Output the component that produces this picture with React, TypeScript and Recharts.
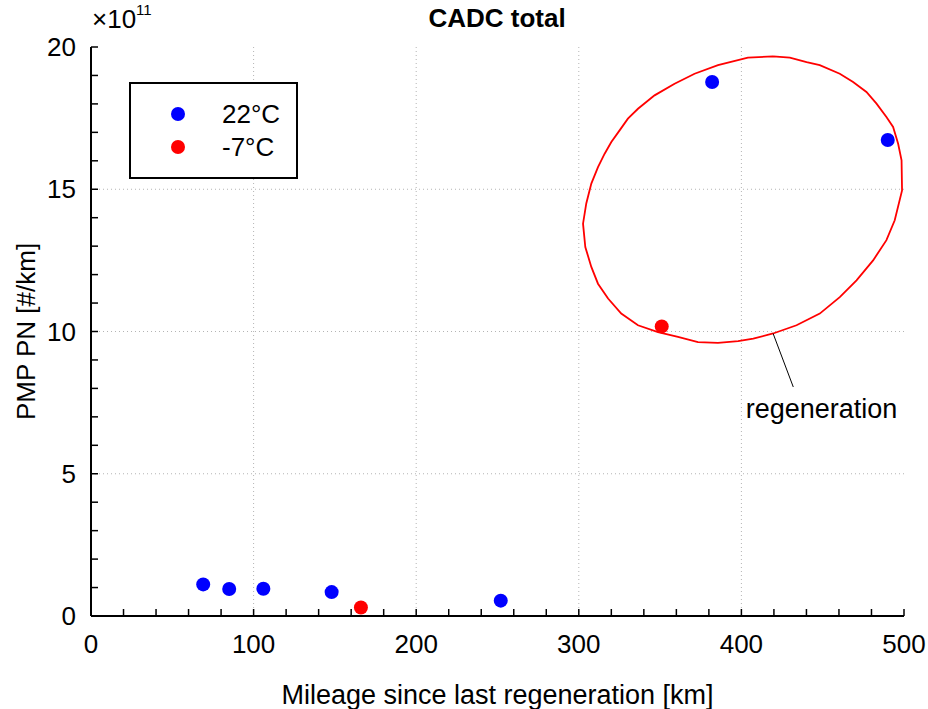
import React from 'react';
import {
  ScatterChart,
  Scatter,
  XAxis,
  YAxis,
  ReferenceLine,
  ReferenceDot,
  Legend,
} from 'recharts';

const FONT = '"Liberation Sans", Arial, Helvetica, sans-serif';

const temp22 = [
  { x: 69, y: 1.11 },
  { x: 85, y: 0.95 },
  { x: 106, y: 0.96 },
  { x: 148, y: 0.84 },
  { x: 252, y: 0.54 },
  { x: 382, y: 18.77 },
  { x: 490, y: 16.73 },
];

const tempMinus7 = [
  { x: 166, y: 0.3 },
  { x: 351, y: 10.18 },
];

// regeneration ellipse outline
const ellipse = [
  { x: 419.5, y: 19.67 }, { x: 404.0, y: 19.63 }, { x: 385.6, y: 19.36 },
  { x: 371.2, y: 19.06 }, { x: 358.9, y: 18.71 }, { x: 346.6, y: 18.3 },
  { x: 336.4, y: 17.83 }, { x: 330.2, y: 17.48 }, { x: 325.1, y: 17.07 },
  { x: 320.0, y: 16.66 }, { x: 315.9, y: 16.25 }, { x: 311.8, y: 15.78 },
  { x: 307.7, y: 15.2 }, { x: 304.6, y: 14.5 }, { x: 302.6, y: 13.79 },
  { x: 304.0, y: 12.97 }, { x: 307.7, y: 12.27 }, { x: 311.8, y: 11.68 },
  { x: 318.0, y: 11.16 }, { x: 326.1, y: 10.63 }, { x: 336.4, y: 10.22 },
  { x: 348.7, y: 9.98 }, { x: 361.0, y: 9.81 }, { x: 373.3, y: 9.63 },
  { x: 385.6, y: 9.6 }, { x: 398.0, y: 9.66 }, { x: 407.3, y: 9.75 },
  { x: 419.5, y: 9.93 }, { x: 433.9, y: 10.22 }, { x: 448.2, y: 10.63 },
  { x: 460.5, y: 11.21 }, { x: 470.8, y: 11.8 }, { x: 481.0, y: 12.5 },
  { x: 489.2, y: 13.21 }, { x: 494.3, y: 13.91 }, { x: 498.8, y: 14.96 },
  { x: 498.5, y: 16.02 }, { x: 496.4, y: 16.6 }, { x: 493.3, y: 17.19 },
  { x: 489.2, y: 17.54 }, { x: 483.1, y: 18.01 }, { x: 476.9, y: 18.42 },
  { x: 468.7, y: 18.77 }, { x: 460.5, y: 19.06 }, { x: 448.2, y: 19.36 },
  { x: 440.1, y: 19.47 }, { x: 429.8, y: 19.63 }, { x: 419.5, y: 19.67 },
];

const leader = [
  { x: 419.5, y: 9.93 },
  { x: 431.9, y: 8.05 },
];

const annotationPos = { x: 449.3, y: 7.3 };
const annotationText = 'regeneration';

const xTicks = [0, 20, 40, 60, 80, 100, 120, 140, 160, 180, 200, 220, 240, 260, 280, 300, 320, 340, 360, 380, 400, 420, 440, 460, 480, 500];
const yTicks = [0, 1, 2, 3, 4, 5, 6, 7, 8, 9, 10, 11, 12, 13, 14, 15, 16, 17, 18, 19, 20];
const xGrid = [100, 200, 300, 400];
const yGrid = [5, 10, 15];

const legendItems = [
  { label: '22°C', color: '#0000ff' },
  { label: '-7°C', color: '#ff0000' },
];

const title = 'CADC total';
const xLabel = 'Mileage since last regeneration [km]';
const yLabel = 'PMP PN [#/km]';

const dot = (color: string) => (props: any) =>
  <circle cx={props.cx} cy={props.cy} r={7} fill={color} />;
const noShape = () => <g />;

const LegendBox = () => (
  <div
    style={{
      width: 165,
      height: 93,
      border: '2px solid #000',
      background: '#fff',
      fontFamily: FONT,
      position: 'relative',
    }}
  >
    {legendItems.map((it, i) => (
      <div key={it.label} style={{ position: 'absolute', left: 0, top: 14 + i * 33, height: 33, width: 165 }}>
        <svg width={30} height={20} style={{ position: 'absolute', left: 32, top: 6 }}>
          <circle cx={15} cy={10} r={7} fill={it.color} />
        </svg>
        <span style={{ position: 'absolute', left: 91, top: 1, fontSize: 26, lineHeight: '30px', color: '#000' }}>{it.label}</span>
      </div>
    ))}
  </div>
);

export default function App() {
  const tickStyle = { fontSize: 26, fill: '#000', fontFamily: FONT };
  const axisLine = { stroke: '#000', strokeWidth: 2 };
  const tickLine = { stroke: '#000', strokeWidth: 1.5 };
  return (
    <div style={{ position: 'absolute', left: 0, top: 0, width: 928, height: 709, background: '#fff', fontFamily: FONT }}>
      <ScatterChart width={928} height={709} margin={{ top: 47, right: 24, bottom: 0, left: 0 }}>
        {xGrid.map((v) => (
          <ReferenceLine key={'gx' + v} x={v} stroke="#b4b4b4" strokeDasharray="1 3" strokeWidth={1} />
        ))}
        {yGrid.map((v) => (
          <ReferenceLine key={'gy' + v} y={v} stroke="#b4b4b4" strokeDasharray="1 3" strokeWidth={1} />
        ))}
        <XAxis
          type="number"
          dataKey="x"
          domain={[0, 500]}
          ticks={xTicks}
          interval={0}
          allowDataOverflow
          height={93}
          tickSize={-7}
          tickMargin={26}
          tick={tickStyle}
          tickLine={tickLine}
          axisLine={axisLine}
          tickFormatter={(v: number) => (v % 100 === 0 ? String(v) : '')}
          label={{ value: xLabel, position: 'insideBottom', offset: 5, fontSize: 27, fill: '#000', fontFamily: FONT }}
        />
        <XAxis
          xAxisId="top"
          orientation="top"
          type="number"
          dataKey="x"
          domain={[0, 500]}
          ticks={xTicks}
          interval={0}
          allowDataOverflow
          height={0}
          tickSize={-7}
          tick={false}
          tickLine={tickLine}
          axisLine={axisLine}
        />
        <YAxis
          type="number"
          dataKey="y"
          domain={[0, 20]}
          ticks={yTicks}
          interval={0}
          allowDataOverflow
          width={91}
          tickSize={-7}
          tickMargin={22}
          tick={tickStyle}
          tickLine={tickLine}
          axisLine={axisLine}
          tickFormatter={(v: number) => (v % 5 === 0 ? String(v) : '')}
          label={{ value: yLabel, angle: -90, position: 'insideLeft', offset: 26, fontSize: 26, fill: '#000', fontFamily: FONT, style: { textAnchor: 'middle' } }}
        />
        <YAxis
          yAxisId="right"
          orientation="right"
          type="number"
          dataKey="y"
          domain={[0, 20]}
          ticks={yTicks}
          interval={0}
          allowDataOverflow
          width={0}
          tickSize={-7}
          tick={false}
          tickLine={tickLine}
          axisLine={axisLine}
        />
        <Legend
          layout="horizontal"
          verticalAlign="middle"
          align="center"
          wrapperStyle={{ position: 'absolute', left: 129, top: 82, width: 169, height: 97 }}
          content={() => <LegendBox />}
        />
        <Scatter
          name="ellipse"
          data={ellipse}
          line={{ stroke: '#ff0000', strokeWidth: 1.8 }}
          lineType="joint"
          shape={noShape}
          legendType="none"
          isAnimationActive={false}
        />
        <Scatter
          name="leader"
          data={leader}
          line={{ stroke: '#000', strokeWidth: 1 }}
          lineType="joint"
          shape={noShape}
          legendType="none"
          isAnimationActive={false}
        />
        <Scatter name="22°C" data={temp22} fill="#0000ff" shape={dot('#0000ff')} isAnimationActive={false} />
        <Scatter name="-7°C" data={tempMinus7} fill="#ff0000" shape={dot('#ff0000')} isAnimationActive={false} />
        <ReferenceDot
          x={annotationPos.x}
          y={annotationPos.y}
          r={0}
          fill="none"
          stroke="none"
          ifOverflow="visible"
          label={{ value: annotationText, position: 'center', fontSize: 27, fill: '#000', fontFamily: FONT }}
        />
      </ScatterChart>
      <svg width={928} height={40} style={{ position: 'absolute', left: 0, top: 0, pointerEvents: 'none' }}>
        <text x={497} y={26.5} textAnchor="middle" fontSize={26} fontWeight="bold" fontFamily={FONT} fill="#000">
          {title}
        </text>
        <text x={92} y={28} fontSize={26} fontFamily={FONT} fill="#000">
          ×10
          <tspan fontSize={15} dy={-13}>11</tspan>
        </text>
      </svg>
    </div>
  );
}
